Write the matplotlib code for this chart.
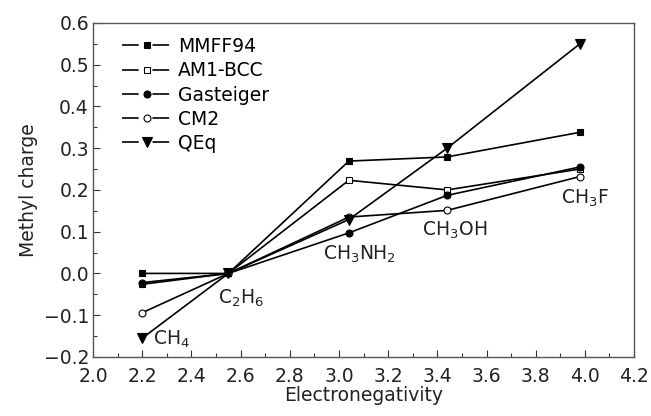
import matplotlib
matplotlib.use("Agg")
import matplotlib.pyplot as plt
from matplotlib.lines import Line2D
from matplotlib.legend_handler import HandlerTuple
from matplotlib.ticker import MultipleLocator

plt.rcParams["font.family"] = ["DejaVu Sans"]
plt.rcParams["mathtext.fontset"] = "dejavusans"

# Electronegativity of the substituent group for each molecule
electroneg = [2.2, 2.55, 3.04, 3.44, 3.98]
molecules = ["CH$_4$", "C$_2$H$_6$", "CH$_3$NH$_2$", "CH$_3$OH", "CH$_3$F"]

mmff94 = [0.0, 0.0, 0.269, 0.279, 0.338]
am1bcc = [-0.026, 0.0, 0.223, 0.200, 0.250]
gasteiger = [-0.022, 0.0, 0.097, 0.187, 0.255]
cm2 = [-0.094, 0.0, 0.135, 0.151, 0.232]
qeq = [-0.155, 0.0, 0.129, 0.300, 0.550]

series = [
    ("MMFF94", mmff94, "s", "black"),
    ("AM1-BCC", am1bcc, "s", "white"),
    ("Gasteiger", gasteiger, "o", "black"),
    ("CM2", cm2, "o", "white"),
    ("QEq", qeq, "v", "black"),
]

FS = 13.5
TXT = "#222222"
fig = plt.figure(figsize=(6.51, 4.16), dpi=100)
ax = fig.add_axes([0.143, 0.142, 0.831, 0.803])

handles, labels = [], []
for name, vals, mk, fc in series:
    ms = 5 if mk != "v" else 6.5
    ax.plot(electroneg, vals, color="black", lw=1.2, marker=mk,
            markersize=ms, markerfacecolor=fc,
            markeredgecolor="black", markeredgewidth=0.8)
    # Origin-style legend symbol: line, gap, marker, gap, line
    seg = Line2D([], [], color="black", lw=1.2, linestyle=(0, (10, 8.3, 10, 40)))
    dot = Line2D([], [], color="black", lw=0, marker=mk, markersize=ms,
                 markerfacecolor=fc, markeredgecolor="black", markeredgewidth=0.8)
    handles.append((seg, dot))
    labels.append(name)

# molecule labels next to the points
label_pos = [(2.245, -0.158), (2.6, -0.06), (3.085, 0.045), (3.47, 0.103), (4.0, 0.18)]
for (lx, ly), txt in zip(label_pos, molecules):
    ha = "left" if txt == "CH$_4$" else "center"
    ax.text(lx, ly, txt, fontsize=FS, ha=ha, va="center", color=TXT)

ax.set_xlim(2.0, 4.2)
ax.set_ylim(-0.2, 0.6)
ax.xaxis.set_major_locator(MultipleLocator(0.2))
ax.xaxis.set_minor_locator(MultipleLocator(0.1))
ax.yaxis.set_major_locator(MultipleLocator(0.1))
ax.yaxis.set_minor_locator(MultipleLocator(0.05))
ax.xaxis.set_major_formatter(lambda v, p: f"{v:.1f}")
ax.yaxis.set_major_formatter(lambda v, p: f"{v:.1f}".replace("-", "\u2212"))
ax.tick_params(which="both", direction="in", top=False, right=False,
               labelsize=FS, colors="#333333", labelcolor=TXT)
ax.tick_params(which="major", length=5, width=0.8)
ax.tick_params(axis="x", which="major", pad=7)
ax.tick_params(axis="y", which="major", pad=3)
ax.tick_params(which="minor", length=3, width=0.8)
for sp in ax.spines.values():
    sp.set_color("#555555")
    sp.set_linewidth(1.0)

ax.set_xlabel("Electronegativity", fontsize=FS, color=TXT, labelpad=0)
ax.set_ylabel("Methyl charge", fontsize=FS, color=TXT, labelpad=4)

ax.legend(handles, labels, handler_map={tuple: HandlerTuple(ndivide=1)},
          loc="upper left", frameon=False, fontsize=FS, handlelength=2.6,
          handletextpad=0.35, labelspacing=0.28, borderaxespad=0.3,
          bbox_to_anchor=(0.03, 0.997))

fig.savefig("out.png", dpi=100, facecolor="white")
